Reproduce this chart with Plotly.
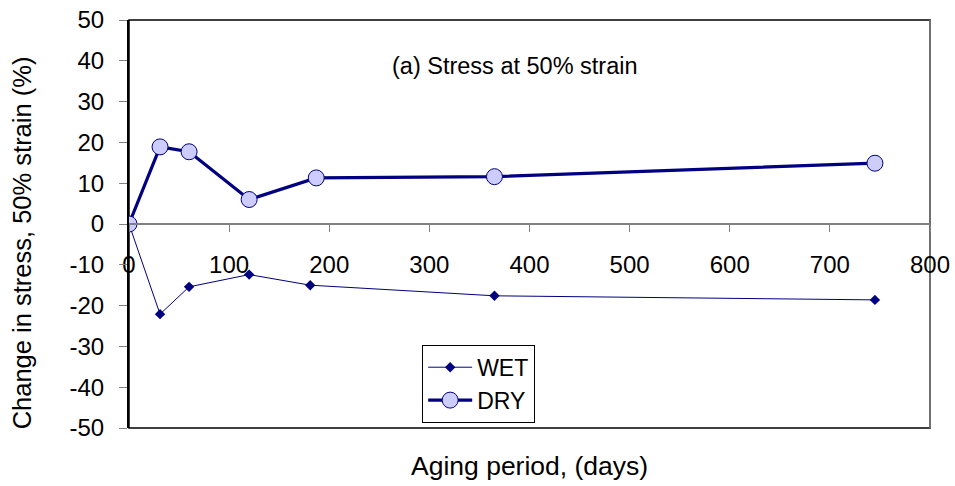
import plotly.graph_objects as go

days_wet = [0, 31, 60, 120, 181, 365, 745]
wet = [0, -22.1, -15.4, -12.4, -15.0, -17.6, -18.6]
days_dry = [0, 31, 60, 120, 187, 365, 745]
dry = [0, 18.9, 17.7, 6.0, 11.3, 11.6, 14.9]

x_ticks = [0, 100, 200, 300, 400, 500, 600, 700, 800]
y_ticks = [-50, -40, -30, -20, -10, 0, 10, 20, 30, 40, 50]

NAVY = "#000080"
GRAY = "#808080"
FONT = "Liberation Sans, Arial, sans-serif"

fig = go.Figure()
fig.add_trace(go.Scatter(
    x=days_wet, y=wet, name="WET", mode="lines+markers",
    line=dict(color=NAVY, width=1),
    marker=dict(symbol="diamond", size=8, color=NAVY),
))
fig.add_trace(go.Scatter(
    x=days_dry, y=dry, name="DRY", mode="lines+markers",
    line=dict(color=NAVY, width=3.2),
    marker=dict(symbol="circle", size=16, color="#CCCCFF", line=dict(color=NAVY, width=1)),
))

fig.update_layout(
    width=955, height=486,
    margin=dict(l=129, r=25, t=20, b=58),
    paper_bgcolor="white", plot_bgcolor="white",
    font=dict(family=FONT, size=24, color="black"),
    showlegend=True,
    legend=dict(
        x=0.366, y=0.204, xanchor="left", yanchor="top",
        bgcolor="white", bordercolor="black", borderwidth=1,
        font=dict(size=23), itemwidth=44,
    ),
    xaxis=dict(
        range=[0, 800], tickvals=x_ticks, ticktext=[str(v) for v in x_ticks],
        anchor="free", position=0.5,
        showline=True, linecolor=GRAY, linewidth=2,
        ticks="outside", ticklen=7, tickcolor=GRAY, tickwidth=1,
        ticklabelstandoff=12, ticklabeloverflow="allow",
        showgrid=False, zeroline=False, automargin=False,
        tickfont=dict(size=24),
    ),
    yaxis=dict(
        range=[-50, 50], tickvals=y_ticks, ticktext=[str(v) for v in y_ticks],
        showline=True, linecolor="black", linewidth=2,
        ticks="outside", ticklen=8, tickcolor=GRAY, tickwidth=1,
        ticklabelstandoff=10, ticklabeloverflow="allow",
        showgrid=False, zeroline=False, automargin=False,
        tickfont=dict(size=24),
    ),
)

fig.add_shape(type="rect", xref="x domain", yref="y domain", x0=0, x1=1, y0=0, y1=1,
              line=dict(color="black", width=1.5), layer="below")
fig.add_shape(type="line", xref="x domain", yref="y domain", x0=1, x1=1, y0=0, y1=1,
              line=dict(color=GRAY, width=1.5), layer="below")

fig.add_annotation(text="Aging period, (days)", xref="paper", yref="paper",
                   x=0.5006, y=-0.093, xanchor="center", yanchor="middle",
                   showarrow=False, font=dict(size=26.5))
fig.add_annotation(text="Change in stress, 50% strain (%)", xref="paper", yref="paper",
                   x=-0.1336, y=0.455, xanchor="center", yanchor="middle", textangle=-90,
                   showarrow=False, font=dict(size=25.5))
fig.add_annotation(text="(a) Stress at 50% strain", xref="paper", yref="paper",
                   x=0.482, y=0.887, xanchor="center", yanchor="middle",
                   showarrow=False, font=dict(size=23.5))

fig.write_html("out.html", config={"displayModeBar": False},
               post_script="document.body.style.margin='0px';")
